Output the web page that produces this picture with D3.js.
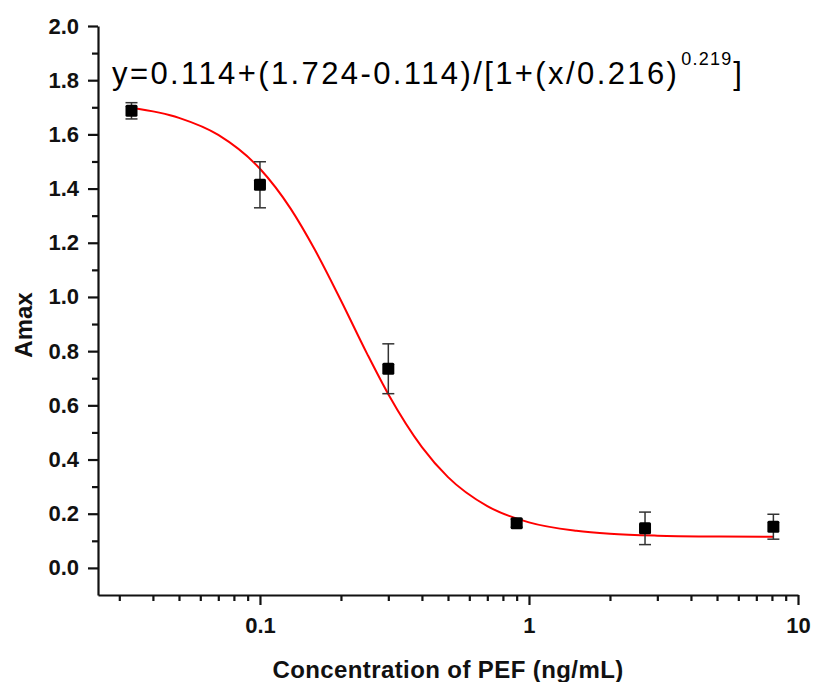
<!DOCTYPE html>
<html>
<head>
<meta charset="utf-8">
<script src="https://cdn.jsdelivr.net/npm/d3@7"></script>
<style>
  html, body { margin: 0; padding: 0; background: #fff; }
  svg { display: block; font-family: "Liberation Sans", Arial, sans-serif; }
</style>
</head>
<body>
<div id="chart"></div>
<script>
// measured points (concentration in ng/mL)
const concentrations = [0.0333, 0.1, 0.3, 0.9, 2.7, 8.1];
const amax = [1.687, 1.414, 0.735, 0.165, 0.146, 0.152];
const amaxErr = [0.03, 0.085, 0.092, 0.015, 0.06, 0.046];

// fitted curve
const fitX = [0.0333, 0.05, 0.07, 0.1, 0.13, 0.16, 0.2, 0.25, 0.3, 0.4, 0.5, 0.7, 1, 1.5, 2, 3, 5, 8.1];
const fitY = [1.698, 1.661, 1.598, 1.473, 1.326, 1.174, 0.987, 0.791, 0.641, 0.446, 0.335, 0.228, 0.168, 0.137, 0.126, 0.119, 0.116, 0.115];

const xMajor = [0.1, 1, 10];
const xMinor = [0.03, 0.04, 0.05, 0.06, 0.07, 0.08, 0.09, 0.2, 0.3, 0.4, 0.5, 0.6, 0.7, 0.8, 0.9, 2, 3, 4, 5, 6, 7, 8, 9];
const yMajor = [0, 0.2, 0.4, 0.6, 0.8, 1.0, 1.2, 1.4, 1.6, 1.8, 2.0];
const yMinor = [0.1, 0.3, 0.5, 0.7, 0.9, 1.1, 1.3, 1.5, 1.7, 1.9];

const equation = "y=0.114+(1.724-0.114)/[1+(x/0.216)";
const exponent = "0.219";

const width = 813, height = 682;
const margin = {top: 26, right: 15, bottom: 87, left: 98};

const svg = d3.select("#chart")
  .append("svg")
    .attr("width", width)
    .attr("height", height);

svg.append("rect")
    .attr("width", width)
    .attr("height", height)
    .attr("fill", "#fff");

const x = d3.scaleLog()
    .domain([0.025, 10])
    .range([margin.left, width - margin.right]);

const y = d3.scaleLinear()
    .domain([-0.1, 2.0])
    .range([height - margin.bottom, margin.top]);

// axes: minor ticks first, then major ticks with labels
svg.append("g")
    .attr("transform", "translate(0," + (height - margin.bottom) + ")")
    .call(d3.axisBottom(x).tickValues(xMinor).tickSize(6).tickSizeOuter(0).tickFormat(""))
    .call(g => g.select(".domain").remove());

svg.append("g")
    .attr("transform", "translate(0," + (height - margin.bottom) + ")")
    .call(d3.axisBottom(x).tickValues(xMajor).tickSize(10).tickSizeOuter(0).tickPadding(12)
      .tickFormat(d => d < 1 ? String(d) : d3.format("d")(d)));

svg.append("g")
    .attr("transform", "translate(" + margin.left + ",0)")
    .call(d3.axisLeft(y).tickValues(yMinor).tickSize(6).tickSizeOuter(0).tickFormat(""))
    .call(g => g.select(".domain").remove());

svg.append("g")
    .attr("transform", "translate(" + margin.left + ",0)")
    .call(d3.axisLeft(y).tickValues(yMajor).tickSize(10).tickSizeOuter(0).tickPadding(9)
      .tickFormat(d3.format(".1f")));

svg.selectAll(".domain, .tick line")
    .attr("stroke", "#111")
    .attr("stroke-width", 2.2);

svg.selectAll(".tick text")
    .attr("fill", "#111")
    .style("font-size", "22px")
    .style("font-weight", "bold");

// axis titles
svg.append("text")
    .attr("x", (x.range()[0] + x.range()[1]) / 2)
    .attr("y", 678)
    .attr("text-anchor", "middle")
    .style("font-size", "24px")
    .style("font-weight", "bold")
    .style("letter-spacing", "0.4px")
    .attr("fill", "#111")
    .text("Concentration of PEF (ng/mL)");

svg.append("text")
    .attr("transform", "translate(32,325) rotate(-90)")
    .attr("text-anchor", "middle")
    .style("font-size", "24px")
    .style("font-weight", "bold")
    .attr("fill", "#111")
    .text("Amax");

// fitted curve
const fit = fitX.map((d, i) => ({x: d, y: fitY[i]}));
svg.append("path")
    .datum(fit)
    .attr("fill", "none")
    .attr("stroke", "#ff0000")
    .attr("stroke-width", 2)
    .attr("d", d3.line()
      .x(d => x(d.x))
      .y(d => y(d.y))
      .curve(d3.curveMonotoneX));

// error bars + markers
const points = concentrations.map((c, i) => ({x: c, y: amax[i], e: amaxErr[i]}));
const capW = 6;

const bars = svg.append("g")
    .attr("stroke", "#333")
    .attr("stroke-width", 1.5);

bars.selectAll(".stem")
  .data(points)
  .join("line")
    .attr("x1", d => x(d.x))
    .attr("x2", d => x(d.x))
    .attr("y1", d => y(d.y + d.e))
    .attr("y2", d => y(d.y - d.e));

bars.selectAll(".capTop")
  .data(points)
  .join("line")
    .attr("x1", d => x(d.x) - capW)
    .attr("x2", d => x(d.x) + capW)
    .attr("y1", d => y(d.y + d.e))
    .attr("y2", d => y(d.y + d.e));

bars.selectAll(".capBottom")
  .data(points)
  .join("line")
    .attr("x1", d => x(d.x) - capW)
    .attr("x2", d => x(d.x) + capW)
    .attr("y1", d => y(d.y - d.e))
    .attr("y2", d => y(d.y - d.e));

const sq = 12;
svg.append("g")
  .selectAll("rect")
  .data(points)
  .join("rect")
    .attr("x", d => x(d.x) - sq / 2)
    .attr("y", d => y(d.y) - sq / 2)
    .attr("width", sq)
    .attr("height", sq)
    .attr("rx", 1.5)
    .attr("fill", "#000");

// equation
const eq = svg.append("text")
    .attr("x", 112)
    .attr("y", 84)
    .attr("fill", "#000")
    .style("font-size", "31px")
    .style("letter-spacing", "2.4px");

eq.append("tspan").text(equation);
eq.append("tspan")
    .attr("dy", -19)
    .attr("dx", 2)
    .style("font-size", "18px")
    .style("letter-spacing", "1.2px")
    .text(exponent);
eq.append("tspan")
    .attr("dy", 19)
    .attr("dx", 1)
    .text("]");
</script>
</body>
</html>
